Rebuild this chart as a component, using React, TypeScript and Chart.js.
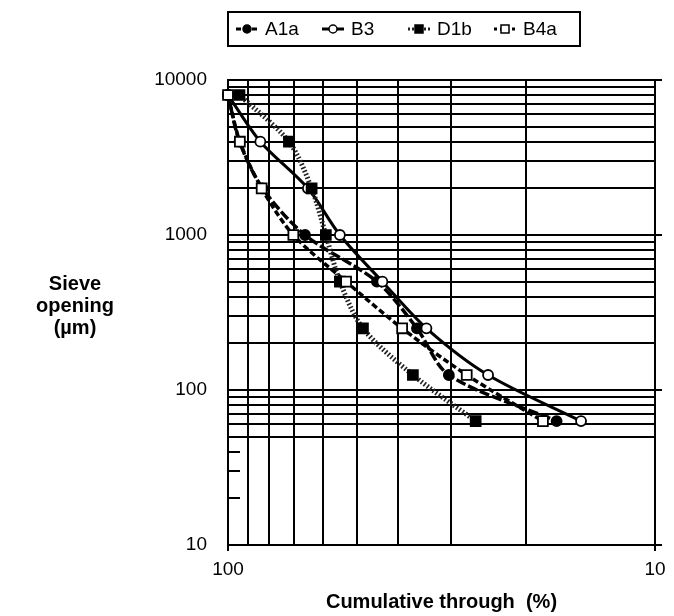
import React, { useEffect, useRef } from 'react';
import { Chart, registerables } from 'chart.js';

Chart.register(...registerables);

// Sieve openings (µm) and cumulative percentage passing for each sample
const sieveOpenings = [8000, 4000, 2000, 1000, 500, 250, 125, 63];
const seriesNames = ['A1a', 'B3', 'D1b', 'B4a'];
const passingA1a = [100, 94, 83, 66, 44.8, 36.1, 30.4, 17.0];
const passingB3 = [100, 84, 65, 54.7, 43.5, 34.3, 24.6, 14.9];
const passingD1b = [94, 72, 63.7, 59, 54.7, 48.3, 36.9, 26.3];
const passingB4a = [100, 93.8, 83.4, 70.3, 52.9, 39.1, 27.6, 18.3];

// Axis ticks (grid lines) and the ones that carry a label
const xTicks = [100, 90, 80, 70, 60, 50, 40, 30, 20, 10];
const xTickLabels = [100, 10];
const yTicks = [
  10, 50, 60, 70, 80, 90,
  100, 200, 300, 400, 500, 600, 700, 800, 900,
  1000, 2000, 3000, 4000, 5000, 6000, 7000, 8000, 9000,
  10000,
];
const yShortTicks = [20, 30, 40];
const yTickLabels = [10, 100, 1000, 10000];

const FONT = '"Liberation Sans", Arial, Helvetica, sans-serif';

type SeriesStyle = {
  dash: number[];
  width: number;
  color: string;
  point: 'circle' | 'rect';
  radius: number;
  fill: string;
  order: number;
};

const styles: Record<string, SeriesStyle> = {
  A1a: { dash: [10, 3], width: 3.5, color: '#000', point: 'circle', radius: 5, fill: '#000', order: 3 },
  B3: { dash: [], width: 3, color: '#000', point: 'circle', radius: 5, fill: '#fff', order: 2 },
  D1b: { dash: [1.6, 2], width: 5, color: '#222', point: 'rect', radius: 7, fill: '#000', order: 1 },
  B4a: { dash: [6, 3], width: 3.5, color: '#000', point: 'rect', radius: 7, fill: '#fff', order: 0 },
};

const seriesValues: Record<string, number[]> = {
  A1a: passingA1a,
  B3: passingB3,
  D1b: passingD1b,
  B4a: passingB4a,
};

// Legend in a framed box above the plot: line sample with marker, then name
const keyBox = {
  id: 'keyBox',
  afterDraw(chart: any) {
    const { ctx } = chart;
    const left = 228;
    const top = 12;
    const width = 352;
    const height = 34;
    const itemStart = 236;
    const itemStep = 86;
    const sampleW = 22;
    const cy = top + height / 2;
    ctx.save();
    ctx.font = `19px ${FONT}`;
    ctx.strokeStyle = '#000';
    ctx.lineWidth = 2;
    ctx.strokeRect(left, top, width, height);
    seriesNames.forEach((name, i) => {
      const s = styles[name];
      const x = itemStart + i * itemStep;
      ctx.save();
      ctx.setLineDash(s.dash.length ? [Math.max(2, s.dash[0] / 2), s.dash[1]] : []);
      ctx.lineWidth = Math.min(s.width, 3);
      ctx.strokeStyle = s.color;
      ctx.beginPath();
      ctx.moveTo(x, cy);
      ctx.lineTo(x + sampleW, cy);
      ctx.stroke();
      ctx.restore();
      const mx = x + sampleW / 2;
      ctx.fillStyle = s.fill;
      ctx.strokeStyle = '#000';
      ctx.lineWidth = 1.5;
      ctx.beginPath();
      if (s.point === 'circle') {
        ctx.arc(mx, cy, 4, 0, Math.PI * 2);
      } else {
        ctx.rect(mx - 4, cy - 4, 8, 8);
      }
      ctx.fill();
      ctx.stroke();
      ctx.fillStyle = '#000';
      ctx.textAlign = 'left';
      ctx.textBaseline = 'middle';
      ctx.fillText(name, x + sampleW + 7, cy + 1);
    });
    ctx.restore();
  },
};

// Horizontal, stacked title for the vertical axis
const yAxisTitle = {
  id: 'yAxisTitle',
  afterDraw(chart: any) {
    const { ctx } = chart;
    const lines = ['Sieve', 'opening', '(µm)'];
    ctx.save();
    ctx.font = `bold 20px ${FONT}`;
    ctx.fillStyle = '#000';
    ctx.textAlign = 'center';
    ctx.textBaseline = 'middle';
    lines.forEach((t, i) => ctx.fillText(t, 75, 284 + i * 22));
    ctx.restore();
  },
};

// Short outward ticks on the right-hand frame at each decade,
// and short inner ticks on the left axis for the lowest decade
const frameStubs = {
  id: 'frameStubs',
  afterDraw(chart: any) {
    const { ctx, chartArea, scales } = chart;
    ctx.save();
    ctx.strokeStyle = '#000';
    ctx.lineWidth = 2;
    yTickLabels.forEach((v) => {
      const y = Math.round(scales.y.getPixelForValue(v));
      ctx.beginPath();
      ctx.moveTo(chartArea.right, y);
      ctx.lineTo(chartArea.right + 7, y);
      ctx.stroke();
    });
    yShortTicks.forEach((v) => {
      const y = Math.round(scales.y.getPixelForValue(v));
      ctx.beginPath();
      ctx.moveTo(chartArea.left, y);
      ctx.lineTo(chartArea.left + 12, y);
      ctx.stroke();
    });
    ctx.restore();
  },
};

export default function App() {
  const canvasRef = useRef<HTMLCanvasElement | null>(null);

  useEffect(() => {
    const canvas = canvasRef.current;
    if (!canvas) return;

    const datasets = seriesNames.map((name) => {
      const s = styles[name];
      return {
        label: name,
        data: seriesValues[name].map((v, i) => ({ x: v, y: sieveOpenings[i] })),
        order: s.order,
        borderColor: s.color,
        borderWidth: s.width,
        borderDash: s.dash,
        tension: 0.3,
        fill: false,
        clip: false as any,
        pointStyle: s.point,
        pointRadius: s.radius,
        pointBackgroundColor: s.fill,
        pointBorderColor: '#000',
        pointBorderWidth: 1.8,
      };
    });

    const chart = new Chart(canvas, {
      type: 'line',
      data: { datasets },
      options: {
        animation: false,
        responsive: false,
        devicePixelRatio: 1,
        events: [],
        layout: { padding: { top: 80, right: 19, left: 0, bottom: 0 } },
        plugins: {
          legend: { display: false },
          tooltip: { enabled: false },
        },
        scales: {
          x: {
            type: 'logarithmic',
            reverse: true,
            min: 10,
            max: 100,
            afterBuildTicks: (s: any) => {
              s.ticks = xTicks.map((v) => ({ value: v }));
            },
            afterFit: (s: any) => {
              s.height = 71;
            },
            grid: {
              color: '#000',
              lineWidth: 2,
              drawTicks: true,
              tickLength: 6,
              tickWidth: 2,
              tickColor: (c: any) =>
                c.tick && xTickLabels.includes(c.tick.value) ? '#000' : 'rgba(0,0,0,0)',
            },
            border: { color: '#000', width: 2 },
            ticks: {
              autoSkip: false,
              maxRotation: 0,
              padding: 7,
              color: '#000',
              font: { family: FONT, size: 19 },
              callback: (v: any) => (xTickLabels.includes(Number(v)) ? String(v) : ''),
            },
            title: {
              display: true,
              text: 'Cumulative through  (%)',
              color: '#000',
              font: { family: FONT, size: 20, weight: 'bold', lineHeight: 1 },
              padding: { top: 0, bottom: 4 },
            },
          },
          y: {
            type: 'logarithmic',
            min: 10,
            max: 10000,
            afterBuildTicks: (s: any) => {
              s.ticks = yTicks.map((v) => ({ value: v }));
            },
            afterFit: (s: any) => {
              s.width = 228;
            },
            grid: { color: '#000', lineWidth: 2, drawTicks: false },
            border: { color: '#000', width: 2 },
            ticks: {
              autoSkip: false,
              padding: 21,
              color: '#000',
              font: { family: FONT, size: 19 },
              callback: (v: any) => (yTickLabels.includes(Number(v)) ? String(v) : ''),
            },
          },
        },
      },
      plugins: [keyBox, yAxisTitle, frameStubs],
    } as any);

    return () => chart.destroy();
  }, []);

  return (
    <div style={{ position: 'absolute', left: 0, top: 0, width: 674, height: 616, background: '#fff' }}>
      <canvas ref={canvasRef} width={674} height={616} style={{ display: 'block' }} />
    </div>
  );
}
